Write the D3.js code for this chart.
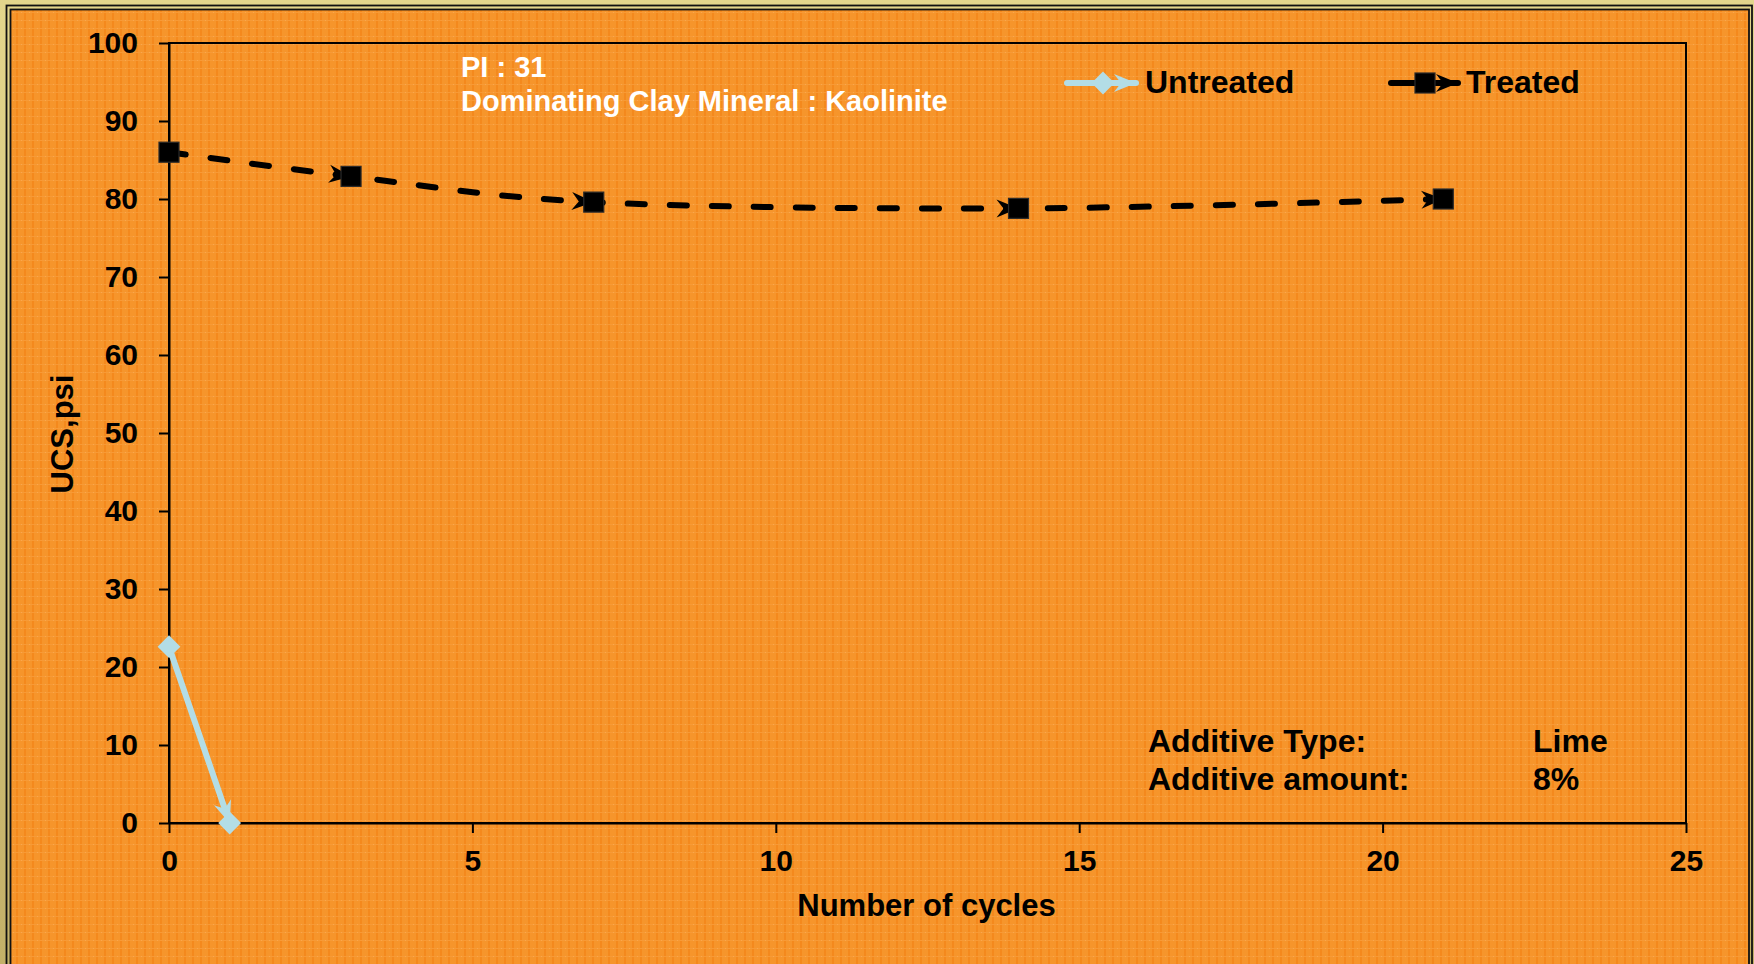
<!DOCTYPE html>
<html>
<head>
<meta charset="utf-8">
<script src="https://cdn.jsdelivr.net/npm/d3@7"></script>
<style>
  html, body { margin: 0; padding: 0; background: #ffffff; }
  svg { display: block; }
  text { font-family: "Liberation Sans", Arial, Helvetica, sans-serif; font-weight: bold; }
</style>
</head>
<body>
<svg id="chart" width="1754" height="964"></svg>
<script>
// ---------------- data ----------------
const seriesNames = ["Untreated", "Treated"];
const cyclesUntreated = [0, 1];
const ucsUntreated = [22.6, 0];
const cyclesTreated = [0, 3, 7, 14, 21];
const ucsTreated = [86.0, 82.9, 79.6, 78.8, 80.0];
const xTickValues = [0, 5, 10, 15, 20, 25];
const yTickValues = [0, 10, 20, 30, 40, 50, 60, 70, 80, 90, 100];
const xTitle = "Number of cycles";
const yTitle = "UCS,psi";
const infoLines = ["PI : 31", "Dominating Clay Mineral : Kaolinite"];
const additiveLabels = ["Additive Type:", "Additive amount:"];
const additiveValues = ["Lime", "8%"];

// ---------------- setup ----------------
const W = 1754, H = 964;
const svg = d3.select("#chart");
const defs = svg.append("defs");

const frameGrad = defs.append("linearGradient").attr("id", "frameGrad")
  .attr("x1", 0).attr("y1", 0).attr("x2", 0).attr("y2", 1);
frameGrad.append("stop").attr("offset", "0%").attr("stop-color", "#e3d68c");
frameGrad.append("stop").attr("offset", "100%").attr("stop-color", "#c3b068");

const tex = defs.append("pattern").attr("id", "tex")
  .attr("patternUnits", "userSpaceOnUse").attr("width", 8).attr("height", 8);
tex.append("rect").attr("width", 8).attr("height", 8).attr("fill", "#f6952b");
tex.append("rect").attr("x", 0).attr("width", 2).attr("height", 8).attr("fill", "#f4891d");
tex.append("rect").attr("y", 4).attr("width", 8).attr("height", 1).attr("fill", "#f79a36");
tex.append("rect").attr("x", 5).attr("y", 4).attr("width", 1).attr("height", 1).attr("fill", "#f9a84e");

function arrowMarker(id, color) {
  defs.append("marker").attr("id", id)
    .attr("markerUnits", "userSpaceOnUse")
    .attr("viewBox", "-24 -12 24 24")
    .attr("markerWidth", 24).attr("markerHeight", 24)
    .attr("refX", 0).attr("refY", 0)
    .attr("orient", "auto")
    .style("overflow", "visible")
    .append("path")
    .attr("d", "M0,0 L-22,-9 L-15,0 L-22,9 Z")
    .attr("fill", color);
}
const blue = "#b3dde6";
arrowMarker("arrowBlue", blue);
arrowMarker("arrowBlack", "#000");

// background frame
svg.append("rect").attr("width", W).attr("height", H).attr("fill", "url(#frameGrad)");
svg.append("rect").attr("x", 6.5).attr("y", 5.5).attr("width", 1745.5).attr("height", 1000)
  .attr("fill", "url(#frameGrad)").attr("stroke", "#111").attr("stroke-width", 1.8);
svg.append("rect").attr("x", 10.5).attr("y", 9.5).attr("width", 1738.5).attr("height", 1000)
  .attr("fill", "url(#tex)").attr("stroke", "#111").attr("stroke-width", 1.8);

// ---------------- scales & axes ----------------
const x = d3.scaleLinear().domain([0, 25]).range([169, 1686]);
const y = d3.scaleLinear().domain([0, 100]).range([823, 43]);

// plot box
svg.append("rect")
  .attr("x", x(0)).attr("y", y(100))
  .attr("width", x(25) - x(0)).attr("height", y(0) - y(100))
  .attr("fill", "none").attr("stroke", "#000").attr("stroke-width", 2);

const yAxis = svg.append("g").attr("transform", `translate(${x(0)},0)`)
  .call(d3.axisLeft(y).tickValues(yTickValues).tickSize(10).tickPadding(21).tickSizeOuter(0));
const xAxis = svg.append("g").attr("transform", `translate(0,${y(0)})`)
  .call(d3.axisBottom(x).tickValues(xTickValues).tickSize(10).tickPadding(17).tickSizeOuter(0));
[yAxis, xAxis].forEach(g => {
  g.select(".domain").attr("stroke", "#000").attr("stroke-width", 2);
  g.selectAll(".tick line").attr("stroke", "#000").attr("stroke-width", 2);
  g.selectAll(".tick text").attr("fill", "#000")
    .style("font-size", "30px").style("font-weight", "bold")
    .style("font-family", '"Liberation Sans", Arial, sans-serif');
});

// axis titles
svg.append("text").attr("x", 926.5).attr("y", 916)
  .attr("text-anchor", "middle").style("font-size", "31px").attr("fill", "#000")
  .text(xTitle);
svg.append("text").attr("transform", "translate(73,434) rotate(-90)")
  .attr("text-anchor", "middle").style("font-size", "31px").attr("fill", "#000")
  .text(yTitle);

// ---------------- series ----------------
const untreated = cyclesUntreated.map((c, i) => [c, ucsUntreated[i]]);
const treated = cyclesTreated.map((c, i) => [c, ucsTreated[i]]);

const smooth = d3.line().x(d => x(d[0])).y(d => y(d[1])).curve(d3.curveCardinal.tension(0));

// untreated line
svg.append("path").datum(untreated)
  .attr("d", smooth)
  .attr("fill", "none").attr("stroke", blue).attr("stroke-width", 6)
  .attr("stroke-linecap", "round")
  .attr("marker-mid", "url(#arrowBlue)").attr("marker-end", "url(#arrowBlue)");
const diamond = d3.symbol().type(d3.symbolSquare).size(260);
svg.selectAll(".dia").data(untreated).join("path").attr("class", "dia")
  .attr("d", diamond)
  .attr("transform", d => `translate(${x(d[0])},${y(d[1])}) rotate(45)`)
  .attr("fill", blue);

// treated line
svg.append("path").datum(treated)
  .attr("d", smooth)
  .attr("fill", "none").attr("stroke", "#000").attr("stroke-width", 6)
  .attr("stroke-linecap", "round").attr("stroke-dasharray", "17,25")
  .attr("marker-mid", "url(#arrowBlack)").attr("marker-end", "url(#arrowBlack)");
svg.selectAll(".sq").data(treated).join("rect").attr("class", "sq")
  .attr("x", d => x(d[0]) - 10).attr("y", d => y(d[1]) - 10)
  .attr("width", 20).attr("height", 20)
  .attr("fill", "#000").attr("stroke", "#2a2a2a").attr("stroke-width", 1.2);

// ---------------- legend ----------------
const legY = 83;
// Untreated
svg.append("path").attr("d", `M1067,${legY} L1136,${legY}`)
  .attr("stroke", blue).attr("stroke-width", 6).attr("stroke-linecap", "round")
  .attr("fill", "none").attr("marker-end", "url(#arrowBlue)");
svg.append("path").attr("d", diamond)
  .attr("transform", `translate(1103,${legY}) rotate(45)`).attr("fill", blue);
svg.append("text").attr("x", 1145).attr("y", 93).style("font-size", "32px")
  .attr("fill", "#000").text(seriesNames[0]);
// Treated
svg.append("path").attr("d", `M1391,${legY} L1458,${legY}`)
  .attr("stroke", "#000").attr("stroke-width", 6).attr("stroke-linecap", "round")
  .attr("fill", "none").attr("marker-end", "url(#arrowBlack)");
svg.append("rect").attr("x", 1415).attr("y", legY - 10).attr("width", 20).attr("height", 20)
  .attr("fill", "#000").attr("stroke", "#2a2a2a").attr("stroke-width", 1.2);
svg.append("text").attr("x", 1466).attr("y", 93).style("font-size", "32px")
  .attr("fill", "#000").text(seriesNames[1]);

// ---------------- annotations ----------------
svg.selectAll(".info").data(infoLines).join("text").attr("class", "info")
  .attr("x", 461).attr("y", (d, i) => 77 + i * 34)
  .style("font-size", "29px").attr("fill", "#ffffff").text(d => d);

svg.selectAll(".addL").data(additiveLabels).join("text").attr("class", "addL")
  .attr("x", 1148).attr("y", (d, i) => 752 + i * 38)
  .style("font-size", "32px").attr("fill", "#000").text(d => d);
svg.selectAll(".addV").data(additiveValues).join("text").attr("class", "addV")
  .attr("x", 1533).attr("y", (d, i) => 752 + i * 38)
  .style("font-size", "32px").attr("fill", "#000").text(d => d);
</script>
</body>
</html>
